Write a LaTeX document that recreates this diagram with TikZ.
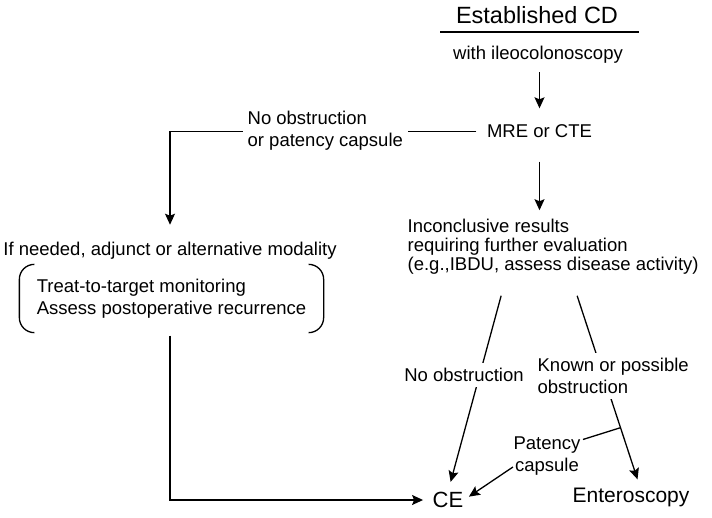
\documentclass[tikz,border=0pt]{standalone}
\usepackage{fontspec}
\setmainfont{Liberation Sans}
\usetikzlibrary{arrows.meta}

\begin{document}
\begin{tikzpicture}[x=1pt, y=-1pt, line width=1.3pt,
    every node/.style={inner sep=0pt, font=\fontsize{18.5}{22}\selectfont},
    arr/.style={-{Stealth[length=11pt, width=10pt, inset=2pt]}},
    lbl/.style={fill=white, inner sep=5pt}]
  \useasboundingbox (0,0) rectangle (712,517);
  \node[font=\fontsize{23.5}{26}\selectfont] (est) at (537,15) {Established CD};
  \draw (440,32) -- (639,32);
  \node (ileo) at (538,55) {with ileocolonoscopy};
  \node (mre) at (539.5,131.5) {MRE or CTE};
  \node[font=\fontsize{18.5}{19}\selectfont, align=left, anchor=west] (inc) at (407,246.5) {Inconclusive results\\requiring further evaluation\\(e.g.,IBDU, assess disease activity)};
  \node (adj) at (170,251) {If needed, adjunct or alternative modality};
  \node[align=left, minimum width=303pt, minimum height=67pt] (brk) at (171.5,298.5) {Treat-to-target monitoring\\Assess postoperative recurrence};
  \node[font=\fontsize{22}{24}\selectfont] (ce) at (448,500) {CE};
  \node[font=\fontsize{21}{24}\selectfont] (ent) at (631,497) {Enteroscopy};
  \node[align=center] (pat) at (547,456) {Patency\\capsule};
  \draw[rounded corners=15pt] ([xshift=15pt]brk.north west) -- (brk.north west) -- (brk.south west) -- ([xshift=15pt]brk.south west);
  \draw[rounded corners=15pt] ([xshift=-15pt]brk.north east) -- (brk.north east) -- (brk.south east) -- ([xshift=-15pt]brk.south east);
  \draw[arr, shorten <=8pt, shorten >=16pt] (ileo.south -| mre) -- (mre);
  \draw[arr, shorten <=23pt, shorten >=8pt] (mre) -- (mre |- inc.north);
  \draw[arr, shorten <=10pt, shorten >=17pt] (mre) -| (adj);
  \node[lbl, align=left, anchor=west] (nop) at (242,131) {No obstruction\\or patency capsule};
  \draw[arr, shorten <=3pt, shorten >=9pt] (brk.south -| adj) |- (ce);
  \draw[arr, shorten >=10pt] ([xshift=-52pt, yshift=-21pt]inc.south) -- (ce.north);
  \node[lbl] (nob) at (464,375) {No obstruction};
  \draw[arr, shorten >=8pt] ([xshift=24pt, yshift=-21pt]inc.south) -- coordinate[pos=0.69] (pj) ([xshift=9pt]ent.north);
  \node[lbl, align=left, anchor=west] (kno) at (532,376) {Known or possible\\obstruction};
  \draw[shorten <=2pt] ([yshift=-4pt]pat.north east) -- (pj);
  \draw[arr, shorten >=6pt] ([yshift=-11pt]pat.west) -- (ce.east);
\end{tikzpicture}
\end{document}
